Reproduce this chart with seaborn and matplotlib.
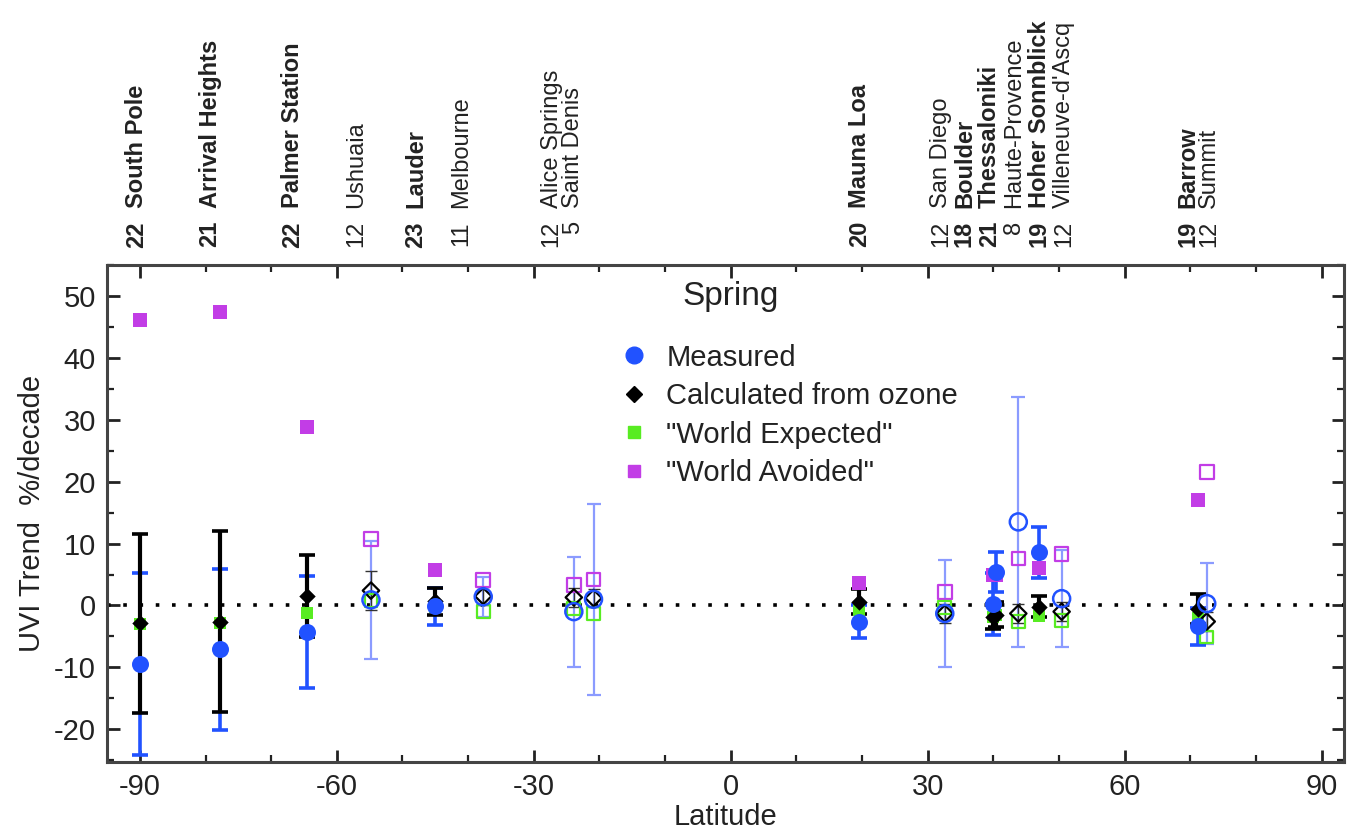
import pandas as pd
import seaborn as sns
import matplotlib.pyplot as plt
import matplotlib.transforms as mtransforms
from matplotlib.lines import Line2D
from matplotlib.ticker import MultipleLocator

# station info (top labels)
stations = ['South Pole', 'Arrival Heights', 'Palmer Station', 'Ushuaia', 'Lauder',
            'Melbourne', 'Alice Springs', 'Saint Denis', 'Mauna Loa', 'San Diego',
            'Boulder', 'Thessaloniki', 'Haute-Provence', 'Hoher Sonnblick',
            "Villeneuve-d'Ascq", 'Barrow', 'Summit']
n_years = [22, 21, 22, 12, 23, 11, 12, 5, 20, 12, 18, 21, 8, 19, 12, 19, 12]
label_lat = [-90.5, -79.3, -66.7, -57.1, -48.0, -41.0, -27.3, -24.0, 19.6, 32.0,
             35.6, 39.4, 43.2, 47.0, 50.8, 69.6, 72.9]
filled = [True, True, True, False, True, False, False, False, True, False,
          True, True, False, True, False, True, False]

# trends in %/decade
lat = [-90.0, -77.8, -64.6, -54.8, -45.1, -37.7, -23.9, -20.9, 19.5, 32.6,
       40.0, 40.4, 43.8, 47.0, 50.4, 71.1, 72.5]
measured = [-9.5, -7.1, -4.3, 0.9, -0.1, 1.4, -1.0, 1.0, -2.6, -1.3,
            0.3, 5.4, 13.5, 8.6, 1.1, -3.4, 0.3]
measured_err = [14.7, 13.0, 9.0, 9.5, 3.0, 3.2, 8.9, 15.4, 2.7, 8.6,
                5.0, 3.2, 20.2, 4.1, 7.8, 3.0, 6.5]
calculated = [-2.9, -2.6, 1.5, 2.4, 0.7, 1.5, 1.3, 1.2, 0.6, -1.3,
              -1.8, -1.5, -1.3, -0.2, -1.0, -0.6, -2.6]
calculated_err = [14.4, 14.6, 6.6, 3.2, 2.2, 1.5, 1.5, 1.5, 2.0, 1.5,
                  2.0, 2.0, 1.5, 1.7, 1.5, 2.4, 1.5]
expected = [-3.0, -2.8, -1.3, 0.8, -0.3, -1.0, -0.5, -1.3, -0.8, -0.3,
            -1.9, -1.5, -2.6, -1.7, -2.4, -2.1, -5.1]
avoided = [46.2, 47.4, 28.9, 10.7, 5.7, 4.1, 3.3, 4.2, 3.7, 2.2,
           5.0, 4.9, 7.6, 6.0, 8.3, 17.1, 21.6]

df = pd.DataFrame({'station': stations, 'lat': lat, 'filled': filled,
                   'measured': measured, 'measured_err': measured_err,
                   'calculated': calculated, 'calculated_err': calculated_err,
                   'expected': expected, 'avoided': avoided})
full = df[df['filled']]
hollow = df[~df['filled']]

blue = '#2152ff'
light_blue = '#8b9bff'
green = '#58ec22'
purple = '#c23de6'

sns.set_style('ticks')
plt.rcParams['font.family'] = ['Liberation Sans', 'DejaVu Sans']
plt.rcParams['axes.unicode_minus'] = False

fig = plt.figure(figsize=(13.48, 8.33), dpi=100)
ax = fig.add_axes([0.0794, 0.0852, 0.9176, 0.5966])

ax.axhline(0, color='k', ls=(0, (1, 3.5)), lw=2.6, zorder=1)

# error bars
ax.errorbar(hollow['lat'], hollow['measured'], yerr=hollow['measured_err'], fmt='none',
            ecolor=light_blue, elinewidth=1.6, capsize=5, capthick=1.6, zorder=2)
ax.errorbar(hollow['lat'], hollow['calculated'], yerr=hollow['calculated_err'], fmt='none',
            ecolor='#333333', elinewidth=1.0, capsize=4, capthick=1.0, zorder=2)
ax.errorbar(full['lat'], full['measured'], yerr=full['measured_err'], fmt='none',
            ecolor=blue, elinewidth=2.6, capsize=6, capthick=2.6, zorder=3)
ax.errorbar(full['lat'], full['calculated'], yerr=full['calculated_err'], fmt='none',
            ecolor='black', elinewidth=3.0, capsize=6, capthick=2.6, zorder=4)

# markers
sns.scatterplot(data=full, x='lat', y='avoided', marker='s', s=95, color=purple,
                edgecolor=purple, linewidth=0, ax=ax, zorder=5)
sns.scatterplot(data=hollow, x='lat', y='avoided', marker='s', s=95, facecolor='none',
                edgecolor=purple, linewidth=1.6, ax=ax, zorder=5)
sns.scatterplot(data=full, x='lat', y='expected', marker='s', s=85, color=green,
                edgecolor=green, linewidth=0, ax=ax, zorder=5)
sns.scatterplot(data=hollow, x='lat', y='expected', marker='s', s=85, facecolor='none',
                edgecolor=green, linewidth=1.6, ax=ax, zorder=5)
sns.scatterplot(data=full, x='lat', y='calculated', marker='D', s=70, color='black',
                edgecolor='black', linewidth=0, ax=ax, zorder=6)
sns.scatterplot(data=hollow, x='lat', y='calculated', marker='D', s=70, facecolor='none',
                edgecolor='black', linewidth=1.6, ax=ax, zorder=6)
sns.scatterplot(data=full, x='lat', y='measured', marker='o', s=150, color=blue,
                edgecolor=blue, linewidth=0, ax=ax, zorder=7)
sns.scatterplot(data=hollow, x='lat', y='measured', marker='o', s=150, facecolor='none',
                edgecolor=blue, linewidth=1.8, ax=ax, zorder=7)

ax.set_xlim(-95, 93.4)
ax.set_ylim(-25.3, 55)
ax.xaxis.set_major_locator(MultipleLocator(30))
ax.xaxis.set_minor_locator(MultipleLocator(10))
ax.yaxis.set_major_locator(MultipleLocator(10))
ax.yaxis.set_minor_locator(MultipleLocator(5))
ax.tick_params(which='both', direction='in', top=True, right=True, colors='#222222',
               labelsize=21, labelcolor='#222222')
ax.tick_params(which='major', length=9, width=2, pad=8)
ax.tick_params(which='minor', length=5, width=1.6)
for sp in ax.spines.values():
    sp.set_linewidth(2.2)
    sp.set_color('#444444')

ax.set_xlabel('Latitude', fontsize=21, color='#222222', labelpad=1)
ax.set_ylabel('UVI Trend  %/decade', fontsize=21, color='#222222', labelpad=6)

ax.text(0, 50, 'Spring', fontsize=24, ha='center', va='center', color='#222222')

handles = [
    Line2D([], [], ls='none', marker='o', ms=12, color=blue),
    Line2D([], [], ls='none', marker='D', ms=8, color='black'),
    Line2D([], [], ls='none', marker='s', ms=8.5, color=green),
    Line2D([], [], ls='none', marker='s', ms=8.5, color=purple),
]
labels = ['Measured', 'Calculated from ozone', '"World Expected"', '"World Avoided"']
leg = ax.legend(handles, labels, loc='upper left', bbox_to_anchor=(0.414, 0.842),
                frameon=False, fontsize=21, handlelength=1.0, handletextpad=0.62,
                labelspacing=0.36, borderpad=0, borderaxespad=0)
for t in leg.get_texts():
    t.set_color('#222222')

# station labels above the plot
trans = mtransforms.blended_transform_factory(ax.transData, fig.transFigure)
for x, n, name, bold in zip(label_lat, n_years, stations, filled):
    weight = 'bold' if bold else 'normal'
    ax.text(x, 1 - 221 / 833, str(n), transform=trans, rotation=90, rotation_mode='anchor',
            ha='right', va='center', fontsize=17, fontweight=weight, color='#222222')
    ax.text(x, 1 - 208 / 833, name, transform=trans, rotation=90, rotation_mode='anchor',
            ha='left', va='center', fontsize=17, fontweight=weight, color='#222222')

fig.savefig('out.png', dpi=100)
